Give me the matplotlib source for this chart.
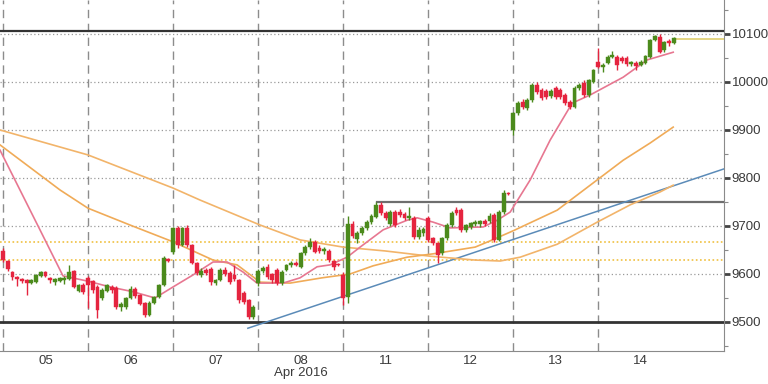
import numpy as np
import matplotlib
matplotlib.use('Agg')
import matplotlib.pyplot as plt

plt.rcParams['font.family'] = ['Liberation Sans Narrow', 'Liberation Sans', 'DejaVu Sans']

# ---- data -------------------------------------------------------------
day_labels = ['05', '06', '07', '08', '11', '12', '13', '14']

# hourly candles per day: (open, high, low, close)
day05 = [(9648, 9655, 9625, 9629), (9627, 9630, 9606, 9610), (9604, 9606, 9588, 9594),
         (9594, 9596, 9575, 9590), (9590, 9592, 9582, 9585), (9587, 9589, 9556, 9581),
         (9581, 9589, 9579, 9587), (9584, 9600, 9582, 9598), (9596, 9606, 9594, 9604),
         (9604, 9606, 9594, 9596), (9592, 9594, 9581, 9588), (9584, 9592, 9577, 9590),
         (9586, 9594, 9584, 9592), (9588, 9596, 9580, 9592), (9590, 9619, 9588, 9604),
         (9606, 9608, 9571, 9573), (9565, 9580, 9562, 9577), (9577, 9581, 9558, 9563)]
day06 = [(9592, 9596, 9530, 9577), (9585, 9588, 9560, 9567), (9573, 9577, 9508, 9525),
         (9550, 9570, 9545, 9567), (9565, 9580, 9562, 9577), (9573, 9577, 9560, 9567),
         (9571, 9575, 9528, 9531), (9531, 9542, 9522, 9538), (9531, 9552, 9528, 9550),
         (9550, 9575, 9548, 9569), (9569, 9572, 9550, 9554), (9556, 9558, 9535, 9538),
         (9540, 9542, 9510, 9515), (9515, 9544, 9512, 9540), (9540, 9555, 9538, 9552),
         (9552, 9580, 9550, 9577), (9577, 9637, 9575, 9633), (9631, 9633, 9625, 9627)]
day07 = [(9646, 9698, 9642, 9696), (9696, 9700, 9655, 9660), (9660, 9698, 9658, 9696),
         (9696, 9702, 9656, 9660), (9660, 9662, 9620, 9623), (9623, 9625, 9598, 9602),
         (9598, 9612, 9594, 9606), (9608, 9612, 9598, 9602), (9610, 9614, 9578, 9583),
         (9581, 9590, 9577, 9587), (9587, 9612, 9585, 9608), (9608, 9614, 9596, 9600),
         (9602, 9606, 9580, 9583), (9598, 9619, 9585, 9590), (9587, 9590, 9540, 9546),
         (9560, 9565, 9538, 9542), (9546, 9548, 9506, 9510), (9510, 9535, 9506, 9531)]
day08 = [(9581, 9610, 9575, 9606), (9606, 9617, 9602, 9612), (9615, 9620, 9590, 9594),
         (9600, 9602, 9582, 9588), (9608, 9612, 9578, 9581), (9581, 9608, 9578, 9604),
         (9608, 9621, 9606, 9619), (9619, 9627, 9615, 9623), (9623, 9627, 9617, 9619),
         (9615, 9646, 9612, 9644), (9644, 9660, 9640, 9656), (9656, 9675, 9652, 9667),
         (9667, 9671, 9644, 9646), (9655, 9660, 9644, 9648), (9648, 9656, 9642, 9652),
         (9648, 9652, 9625, 9629), (9627, 9630, 9608, 9615), (9621, 9623, 9617, 9619)]
day11 = [(9598, 9604, 9535, 9550), (9552, 9720, 9540, 9704), (9704, 9710, 9675, 9679),
         (9673, 9690, 9665, 9685), (9685, 9700, 9682, 9696), (9696, 9712, 9692, 9708),
         (9708, 9725, 9704, 9721), (9719, 9750, 9717, 9744), (9744, 9750, 9722, 9727),
         (9727, 9731, 9712, 9717), (9704, 9733, 9700, 9729), (9729, 9733, 9698, 9702),
         (9729, 9735, 9719, 9723), (9725, 9729, 9712, 9717), (9717, 9740, 9712, 9721),
         (9717, 9721, 9673, 9677), (9677, 9698, 9673, 9692), (9685, 9698, 9680, 9694)]
day12 = [(9717, 9721, 9667, 9671), (9675, 9677, 9660, 9665), (9665, 9667, 9623, 9640),
         (9644, 9677, 9640, 9675), (9675, 9706, 9671, 9702), (9702, 9731, 9698, 9727),
         (9733, 9740, 9723, 9727), (9733, 9737, 9688, 9692), (9692, 9704, 9688, 9702),
         (9698, 9708, 9694, 9706), (9704, 9712, 9700, 9708), (9704, 9712, 9698, 9710),
         (9710, 9714, 9700, 9704), (9710, 9727, 9706, 9721), (9723, 9727, 9667, 9671),
         (9671, 9733, 9669, 9729), (9729, 9775, 9725, 9769), (9769, 9771, 9765, 9767)]
day13 = [(9900, 9937, 9890, 9935), (9935, 9960, 9931, 9956), (9958, 9965, 9944, 9948),
         (9946, 9966, 9942, 9962), (9962, 9998, 9958, 9994), (9994, 10000, 9975, 9979),
         (9983, 9987, 9962, 9967), (9981, 9985, 9965, 9969), (9971, 9985, 9967, 9981),
         (9987, 9992, 9965, 9969), (9983, 9988, 9965, 9969), (9973, 9977, 9952, 9956),
         (9958, 9962, 9944, 9948), (9948, 9992, 9946, 9987), (9987, 9998, 9983, 9994),
         (9998, 10004, 9969, 9973), (9973, 10006, 9969, 10004), (10000, 10027, 9998, 10025)]
day14 = [(10042, 10070, 10029, 10031), (10031, 10040, 10021, 10035), (10040, 10056, 10037, 10052),
         (10052, 10065, 10050, 10056), (10052, 10056, 10025, 10035), (10050, 10054, 10040, 10044),
         (10050, 10054, 10033, 10037), (10037, 10044, 10033, 10042), (10040, 10044, 10025, 10033),
         (10035, 10046, 10033, 10042), (10040, 10056, 10038, 10054), (10052, 10090, 10050, 10088),
         (10088, 10098, 10085, 10096), (10094, 10100, 10060, 10062), (10067, 10085, 10063, 10083),
         (10085, 10090, 10075, 10081), (10081, 10094, 10079, 10092)]
days = [day05, day06, day07, day08, day11, day12, day13, day14]
per_day = 18

# moving averages (x in trading-day units)
ma_fast_x = [-0.035, 0.2, 0.435, 0.706, 1.0, 1.259, 1.529, 1.788, 2.0, 2.235, 2.471, 2.635,
             2.824, 2.988, 3.294, 3.494, 3.694, 3.847, 4.047, 4.2, 4.471, 4.753, 4.871,
             5.059, 5.259, 5.647, 5.812, 5.965, 6.2, 6.435, 6.694, 6.906, 7.294, 7.576, 7.882]
ma_fast_y = [9858, 9775, 9692, 9596, 9585, 9573, 9563, 9550, 9573, 9598, 9625, 9625,
             9604, 9581, 9581, 9592, 9615, 9619, 9635, 9656, 9692, 9712, 9717,
             9708, 9696, 9698, 9712, 9729, 9796, 9879, 9956, 9973, 10010, 10046, 10062]

ma_mid_x = [-0.035, 0.671, 1.0, 1.494, 2.0, 2.471, 2.753, 3.024, 3.376, 3.753, 4.082,
            4.353, 4.753, 5.059, 5.553, 5.729, 6.0, 6.518, 6.988, 7.294, 7.612, 7.882]
ma_mid_y = [9869, 9775, 9737, 9702, 9667, 9629, 9619, 9583, 9581, 9592, 9600,
            9617, 9635, 9642, 9656, 9669, 9690, 9733, 9796, 9837, 9873, 9906]

ma_slow_x = [-0.035, 1.0, 2.0, 2.318, 3.024, 3.494, 4.0, 4.494, 5.024, 5.553, 5.847,
             6.082, 6.518, 6.988, 7.376, 7.729, 7.882]
ma_slow_y = [9900, 9848, 9779, 9754, 9702, 9671, 9656, 9648, 9637, 9629, 9627,
             9635, 9662, 9708, 9744, 9771, 9785]

trend_x = [2.88, 8.48]
trend_y = [9487, 9819]

support = 9500
top_line = 10107
resistance = 9750
resistance_start = 4.4
fib_levels = [9666, 9629]
last_price = 10089
last_start = 7.9

# ---- build candles ----------------------------------------------------
xs, o, h, l, c = [], [], [], [], []
for d, day in enumerate(days):
    for k, (oo, hh, ll, cc) in enumerate(day):
        xs.append(d + k / per_day)
        o.append(oo); h.append(hh); l.append(ll); c.append(cc)
xs, o, h, l, c = map(np.array, (xs, o, h, l, c))
up = c >= o
col = np.where(up, '#4b8a1c', '#e5243f')

fig = plt.figure(figsize=(7.68, 3.84), dpi=100)
ax = fig.add_axes([0, 0.086, 0.943, 0.914])

x0, x1 = -0.035, 8.482
ax.set_xlim(x0, x1)
ax.set_ylim(9439.6, 10170.8)

# grid
for y in [9600, 9700, 9800, 9900, 10000, 10100]:
    ax.axhline(y, color='#9a9a9a', lw=0.9, ls=(0, (1, 2)), zorder=1)
for d in range(8):
    ax.axvline(d, color='#8c8c8c', lw=1.0, ls=(0, (6, 4)), zorder=1)

# levels
for lv in fib_levels:
    ax.axhline(lv, color='#f0c040', lw=1.2, ls=(0, (1, 1.5)), zorder=2)
ax.axhline(support, color='#333333', lw=2.0, zorder=3)
ax.axhline(top_line, color='#333333', lw=1.6, zorder=3)
ax.plot([resistance_start, x1], [resistance, resistance], color='#6e6e6e', lw=1.6, zorder=3)
ax.plot([last_start, x1], [last_price, last_price], color='#e2d27a', lw=1.3, zorder=3)

# trend line and averages
ax.plot(trend_x, trend_y, color='#5b8bb8', lw=1.1, zorder=3)
ax.plot(ma_slow_x, ma_slow_y, color='#f2b46a', lw=1.2, zorder=3)
ax.plot(ma_mid_x, ma_mid_y, color='#f0ab58', lw=1.2, zorder=3)
ax.plot(ma_fast_x, ma_fast_y, color='#e77791', lw=1.2, zorder=4)

# candles
w = 0.045
ax.vlines(xs, l, h, colors=col, lw=1.0, zorder=5)
ax.bar(xs, np.maximum(np.abs(c - o), 2.0), bottom=np.minimum(o, c), width=w,
       color=col, edgecolor=col, lw=0.3, zorder=6)

# axes styling
for s in ['top', 'left']:
    ax.spines[s].set_visible(False)
ax.spines['right'].set_color('#8a8a8a')
ax.spines['bottom'].set_color('#8a8a8a')
ax.yaxis.tick_right()
ax.set_yticks([9500, 9600, 9700, 9800, 9900, 10000, 10100])
ax.set_yticks([9450, 9550, 9650, 9750, 9850, 9950, 10050, 10150], minor=True)
ax.tick_params(axis='y', which='major', direction='out', length=4, width=2,
               color='#444444', labelsize=9.5, labelcolor='#3a3a3a', pad=1.5)
ax.tick_params(axis='y', which='minor', direction='out', length=3, width=0.8, color='#8a8a8a')

ax.set_xticks([d + 0.5 for d in range(8)])
ax.set_xticklabels([lb if lb != '08' else '08\nApr 2016' for lb in day_labels])
ax.tick_params(axis='x', length=0, labelsize=9.5, labelcolor='#3a3a3a', pad=3)
for t in ax.get_xticklabels():
    t.set_linespacing(1.0)

fig.savefig('out.png', dpi=100)
